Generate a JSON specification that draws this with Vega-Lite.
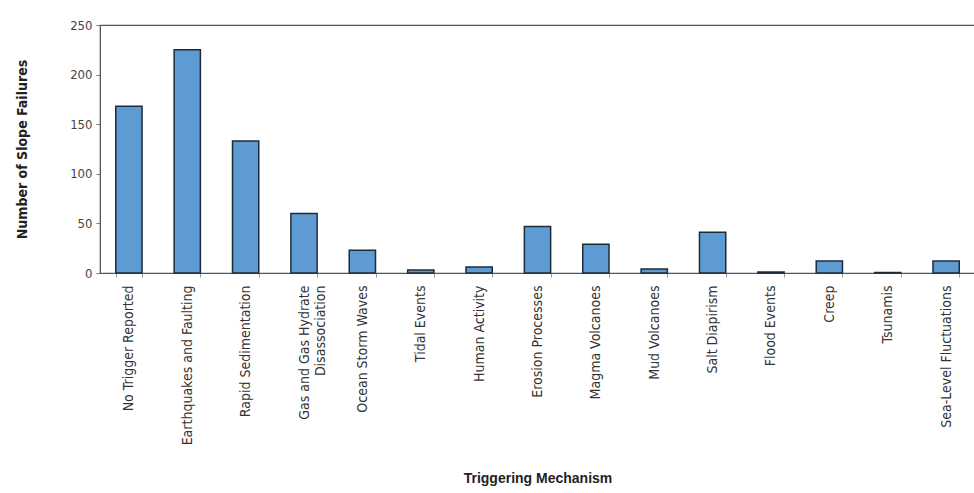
{
  "$schema": "https://vega.github.io/schema/vega-lite/v6.json",
  "autosize": "none",
  "width": 875,
  "height": 248,
  "padding": {"left": 100, "top": 25, "right": 0, "bottom": 220},
  "background": "white",
  "config": {
    "view": {"stroke": "#555", "strokeWidth": 1.2},
    "font": "'DejaVu Sans Condensed', 'Liberation Sans', sans-serif"
  },
  "data": {
    "values": [
      {"mechanism": "No Trigger Reported", "count": 168},
      {"mechanism": "Earthquakes and Faulting", "count": 225},
      {"mechanism": "Rapid Sedimentation", "count": 133},
      {"mechanism": "Gas and Gas Hydrate Disassociation", "count": 60},
      {"mechanism": "Ocean Storm Waves", "count": 23},
      {"mechanism": "Tidal Events", "count": 3},
      {"mechanism": "Human Activity", "count": 6},
      {"mechanism": "Erosion Processes", "count": 47},
      {"mechanism": "Magma Volcanoes", "count": 29},
      {"mechanism": "Mud Volcanoes", "count": 4},
      {"mechanism": "Salt Diapirism", "count": 41},
      {"mechanism": "Flood Events", "count": 1},
      {"mechanism": "Creep", "count": 12},
      {"mechanism": "Tsunamis", "count": 0.5},
      {"mechanism": "Sea-Level Fluctuations", "count": 12}
    ]
  },
  "mark": {"type": "bar", "fill": "#5f9bd3", "stroke": "#1d2b3a", "strokeWidth": 1.5},
  "encoding": {
    "x": {
      "field": "mechanism",
      "type": "nominal",
      "sort": null,
      "scale": {"paddingInner": 0.55, "paddingOuter": 0.27},
      "axis": {
        "title": "Triggering Mechanism",
        "titleFont": "Liberation Sans",
        "titleFontSize": 14,
        "titleFontWeight": "bold",
        "titleColor": "#222",
        "titlePadding": 27,
        "labelAngle": -90,
        "labelFontSize": 14,
        "labelColor": "#333",
        "labelPadding": 8,
        "labelExpr": "datum.value == 'Gas and Gas Hydrate Disassociation' ? ['Gas and Gas Hydrate', 'Disassociation'] : datum.label",
        "labelLimit": 200,
        "domain": false,
        "tickBand": "extent",
        "tickSize": 4,
        "tickColor": "#999"
      }
    },
    "y": {
      "field": "count",
      "type": "quantitative",
      "scale": {"domain": [0, 250]},
      "axis": {
        "title": "Number of Slope Failures",
        "titleFontSize": 14,
        "titleFontWeight": "bold",
        "titleColor": "#222",
        "titlePadding": 40,
        "values": [0, 50, 100, 150, 200, 250],
        "labelFontSize": 13,
        "labelColor": "#444",
        "labelPadding": 4,
        "tickSize": 4,
        "tickColor": "#777",
        "domainColor": "#555",
        "grid": false
      }
    }
  }
}
